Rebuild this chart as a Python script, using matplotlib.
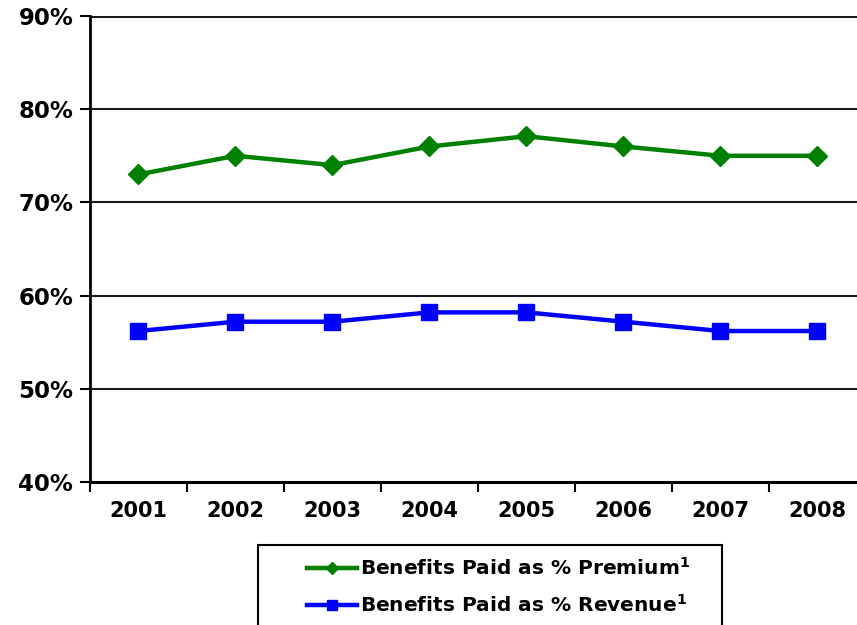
import numpy as np
import matplotlib.pyplot as plt
from matplotlib.patches import Rectangle
from matplotlib.ticker import FixedLocator, PercentFormatter

years = ['2001', '2002', '2003', '2004', '2005', '2006', '2007', '2008']
premium = [73, 75, 74, 76, 77.1, 76, 75, 75]
revenue = [56.2, 57.2, 57.2, 58.2, 58.2, 57.2, 56.2, 56.2]
y_ticks = [40, 50, 60, 70, 80, 90]

plt.rcParams['font.family'] = ['DejaVu Sans']
plt.rcParams['font.weight'] = 'bold'

fig = plt.figure(figsize=(8.57, 6.25), dpi=100)
ax = fig.add_axes([0.105, 0.2288, 0.9055, 0.7456])

x = np.arange(len(years))
ax.plot(x, premium, color='#008000', lw=3.2, marker='D', ms=10.5,
        label=r'Benefits Paid as % Premium$^\mathbf{1}$')
ax.plot(x, revenue, color='#0000FF', lw=3.2, marker='s', ms=12,
        label=r'Benefits Paid as % Revenue$^\mathbf{1}$')

ax.set_xlim(-0.5, len(years) - 0.5)
ax.set_ylim(40, 90)
ax.set_yticks(y_ticks)
ax.yaxis.set_major_formatter(PercentFormatter(decimals=0))
ax.set_xticks(x)
ax.set_xticklabels(years)
ax.xaxis.set_minor_locator(FixedLocator(np.arange(-0.5, len(years), 1.0)))
ax.tick_params(axis='x', which='major', length=0, pad=14, labelsize=15)
ax.tick_params(axis='x', which='minor', length=7, width=1.5, direction='out')
ax.tick_params(axis='y', length=7, width=1.5, direction='out', pad=5, labelsize=16.5)
for lab in ax.get_xticklabels() + ax.get_yticklabels():
    lab.set_fontweight('bold')

for v in y_ticks[1:]:
    ax.axhline(v, color='#1a1a1a', lw=1.5 if v < 90 else 2.2, zorder=0)

for s in ['top', 'right']:
    ax.spines[s].set_visible(False)
ax.spines['left'].set_linewidth(2)
ax.spines['bottom'].set_linewidth(2.2)

fig.patches.append(Rectangle((258 / 857, -0.05), (722 - 258) / 857, 0.05 + 80 / 625,
                             transform=fig.transFigure, fill=False,
                             edgecolor='black', lw=1.5))
leg = fig.legend(loc='upper left', bbox_to_anchor=(0.337, 0.138), frameon=False,
                 handlelength=2.5, handletextpad=0.15, markerscale=0.6,
                 labelspacing=0.75, prop={'weight': 'bold', 'size': 14.5})

fig.savefig('out.png', dpi=100)
